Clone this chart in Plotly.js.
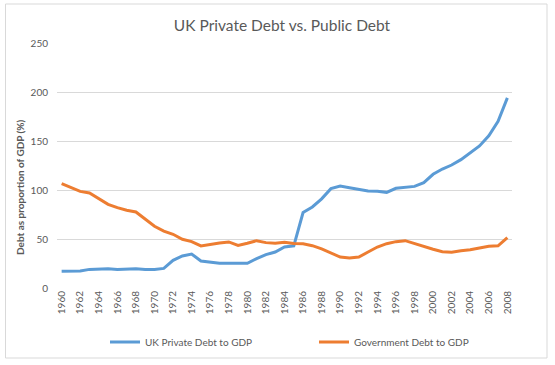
<!DOCTYPE html>
<html>
<head>
<meta charset="utf-8">
<script src="https://cdn.plot.ly/plotly-3.0.1.min.js"></script>
<style>html,body{margin:0;padding:0;background:#fff;}#chart{width:555px;height:365px;}</style>
</head>
<body>
<div id="chart"></div>
<script>
const years = [1960,1961,1962,1963,1964,1965,1966,1967,1968,1969,1970,1971,1972,1973,1974,1975,1976,1977,1978,1979,1980,1981,1982,1983,1984,1985,1986,1987,1988,1989,1990,1991,1992,1993,1994,1995,1996,1997,1998,1999,2000,2001,2002,2003,2004,2005,2006,2007,2008];
const privateDebt = [17,17,17.3,19,19.7,19.7,19,19.7,19.7,19,19,20,28.2,32.7,34.7,27.6,26.2,25.2,25.2,25.2,25.2,30,34,36.7,41.8,43,77,82.7,91,101.4,104,102.4,100.7,99,98.6,97.6,101.7,102.7,103.7,107.5,116,121.4,125.5,131,138,145,155.4,170,194];
const govDebt = [106.5,102.4,98.6,97,91,85.4,82,79.3,77.6,70.7,63,58,54.8,49.7,47.3,42.9,44.6,46,47,43.5,45.6,48.3,46.3,45.6,46.6,45.5,45.2,43.2,40,35.7,31.6,30.6,31.6,36.7,41.8,45.2,47.3,48.3,45.2,42.5,39.5,37,36.4,38,39,40.8,42.5,43,51.4];
const seriesNames = ["UK Private Debt to GDP", "Government Debt to GDP"];
const yTicks = [0,50,100,150,200,250];
const xTicks = [1960,1962,1964,1966,1968,1970,1972,1974,1976,1978,1980,1982,1984,1986,1988,1990,1992,1994,1996,1998,2000,2002,2004,2006,2008];

const FONT = "Lato, 'Open Sans', sans-serif";
const GRAY = "#595959";

const traces = [
  {x: years, y: privateDebt, name: seriesNames[0], type: "scatter", mode: "lines",
   line: {color: "#5B9BD5", width: 3}},
  {x: years, y: govDebt, name: seriesNames[1], type: "scatter", mode: "lines",
   line: {color: "#ED7D31", width: 3}}
];

const L = 57, R = 512, T = 43, B = 288;
const W = R - L, H = B - T;
const px = v => (v - L) / W;
const py = v => (B - v) / H;

const layout = {
  width: 555, height: 365,
  margin: {l: L, r: 555 - R, t: T, b: 365 - B, pad: 0, autoexpand: false},
  paper_bgcolor: "#fff", plot_bgcolor: "#fff",
  font: {family: FONT, color: GRAY, size: 10},
  title: {text: "UK Private Debt vs. Public Debt", font: {family: FONT, size: 15.5, color: GRAY},
          x: 282/555, xref: "container", xanchor: "center", y: 1 - 26/365, yref: "container", yanchor: "middle"},
  showlegend: true,
  legend: {orientation: "h", xref: "paper", x: px(105), xanchor: "left",
           yref: "paper", y: py(342), yanchor: "middle",
           font: {family: FONT, size: 10, color: GRAY}, entrywidth: 164, entrywidthmode: "pixels",
           bgcolor: "rgba(0,0,0,0)", itemwidth: 30, tracegroupgap: 0},
  xaxis: {range: [1959.5, 2008.5], tickmode: "array", tickvals: xTicks, ticktext: xTicks.map(String),
          tickangle: -90, showgrid: false, zeroline: false, showline: false, ticks: "",
          tickfont: {family: FONT, size: 10, color: GRAY}, fixedrange: true, automargin: false},
  yaxis: {range: [0, 250], tickmode: "array", tickvals: yTicks, showgrid: true, gridcolor: "#D9D9D9",
          gridwidth: 1, zeroline: false, showline: false, ticks: "", ticklabelstandoff: 8,
          tickfont: {family: FONT, size: 10, color: GRAY}, fixedrange: true, automargin: false},
  annotations: [
    {text: "<b>Debt as proportion of GDP (%)</b>", xref: "paper", yref: "paper",
     x: px(20), y: py(187), textangle: -90, showarrow: false, xanchor: "center", yanchor: "middle",
     font: {family: FONT, size: 10, color: GRAY}}
  ],
  shapes: [
    {type: "rect", xref: "paper", yref: "paper", x0: px(5.5), x1: px(547), y0: py(4), y1: py(358),
     line: {color: "#D9D9D9", width: 1}, fillcolor: "rgba(0,0,0,0)", layer: "below"}
  ]
};

Plotly.newPlot("chart", traces, layout, {displayModeBar: false, staticPlot: true});
</script>
</body>
</html>
